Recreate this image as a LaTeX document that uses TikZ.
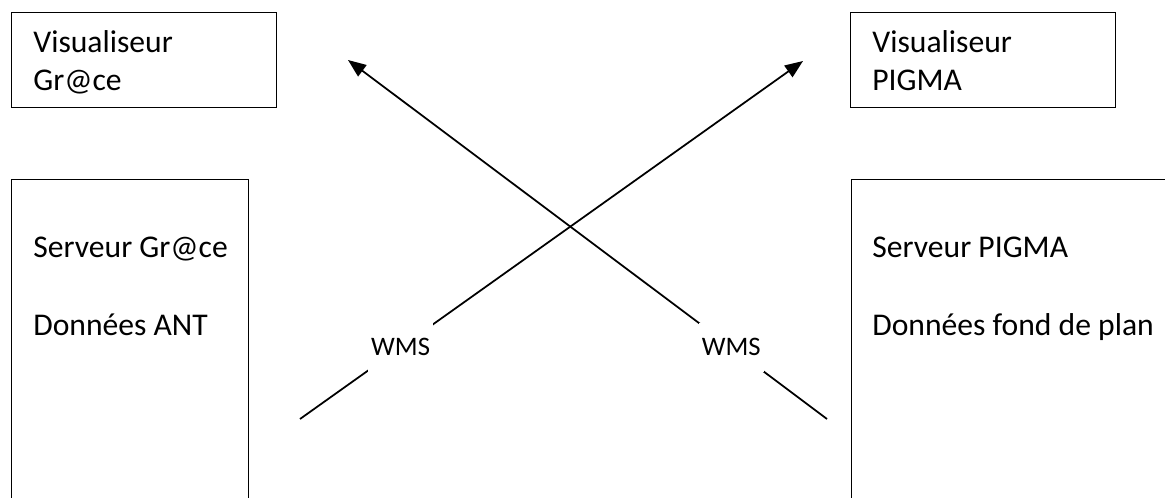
\documentclass[tikz,border=0pt]{standalone}
\usepackage{fontspec}
\setmainfont{Carlito}
\usepackage{tikz}
\usetikzlibrary{arrows.meta,positioning}

\begin{document}
\begin{tikzpicture}[
  x=0.02cm, y=-0.02cm,
  box/.style={draw, line width=0.8pt, anchor=north west, inner sep=0pt},
  txt/.style={anchor=base west, align=left, inner sep=0pt,
    font=\fontsize{18}{21.6}\selectfont},
  arr/.style={-{Triangle[length=0.36cm, width=0.28cm]}, line width=1pt},
  lbl/.style={fill=white, inner sep=0pt, minimum width=1.3cm, minimum height=0.98cm,
    font=\fontsize{15.2}{18}\selectfont}
]
  \useasboundingbox (0,0) rectangle (1165,497);
  \clip (0,0) rectangle (1165,497);

  % viewers
  \node[box, minimum width=5.3cm, minimum height=1.9cm] (visgrace) at (11,12) {};
  \node[box, minimum width=5.3cm, minimum height=1.9cm] (vispigma) at (850,12) {};
  \node[txt] (tvisgrace) at (33,90) {Visualiseur\\Gr@ce};
  \node[txt] (tvispigma) at (872,90) {Visualiseur\\PIGMA};

  % servers
  \node[box, minimum width=4.74cm, minimum height=7.2cm] (srvgrace) at (11,179) {};
  \node[box, minimum width=6.98cm, minimum height=7.2cm] (srvpigma) at (851,179) {};
  \node[txt] (tsrvgrace) at (33,335) {Serveur Gr@ce\\[0.8cm]Données ANT};
  \node[txt] (tsrvpigma) at (872,335) {Serveur PIGMA\\[0.8cm]Données fond de plan};

  % WMS flows
  \coordinate (fromgrace) at (300,419);
  \coordinate (topigma) at (803,61);
  \coordinate (frompigma) at (827,419);
  \coordinate (tograce) at (348,60);

  \draw[arr] (frompigma) -- node[lbl, pos=0.2] (wmspigma) {WMS} (tograce);
  \draw[arr] (fromgrace) -- node[lbl, pos=0.2] (wmsgrace) {WMS} (topigma);
\end{tikzpicture}
\end{document}
